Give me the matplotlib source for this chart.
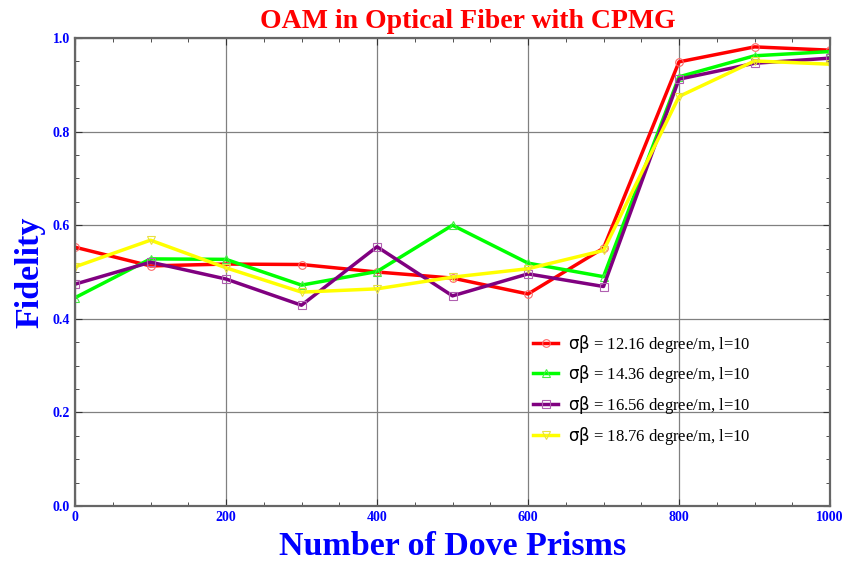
import matplotlib
matplotlib.use('Agg')
import matplotlib.pyplot as plt
from matplotlib.ticker import MultipleLocator, FormatStrFormatter

plt.rcParams['font.family'] = ['Liberation Serif', 'DejaVu Sans']
plt.rcParams['mathtext.fontset'] = 'dejavusans'

x = [0, 100, 200, 300, 400, 500, 600, 700, 800, 900, 1000]
f1216 = [0.553, 0.513, 0.517, 0.516, 0.500, 0.487, 0.453, 0.551, 0.949, 0.981, 0.974]
f1436 = [0.445, 0.528, 0.527, 0.472, 0.501, 0.600, 0.519, 0.490, 0.917, 0.962, 0.971]
f1656 = [0.474, 0.521, 0.485, 0.429, 0.554, 0.449, 0.496, 0.469, 0.912, 0.946, 0.957]
f1876 = [0.511, 0.568, 0.509, 0.457, 0.464, 0.489, 0.507, 0.546, 0.875, 0.951, 0.944]

# data, line colour, marker, marker colour, sigma beta
series = [
    (f1216, '#ff0000', 'o', '#ff6666', '12.16'),
    (f1436, '#00ff00', '^', '#44ee44', '14.36'),
    (f1656, '#800080', 's', '#b060b0', '16.56'),
    (f1876, '#ffff00', 'v', '#e8e040', '18.76'),
]

fig = plt.figure(figsize=(8.46, 5.63), dpi=100)
ax = fig.add_axes([75/846, 57/563, 755/846, 468/563])

for y, c, m, mc, s in series:
    ax.plot(x, y, color=c, linewidth=2.5, marker=m, markersize=5.5,
            markerfacecolor='none', markeredgecolor=mc, markeredgewidth=0.8,
            label=r'$\mathsf{\sigma\beta}$ = ' + s + ' degree/m, l=10')

ax.set_xlim(0, 1000)
ax.set_ylim(0, 1.0)
ax.xaxis.set_major_locator(MultipleLocator(200))
ax.xaxis.set_minor_locator(MultipleLocator(50))
ax.yaxis.set_major_locator(MultipleLocator(0.2))
ax.yaxis.set_minor_locator(MultipleLocator(0.05))
ax.yaxis.set_major_formatter(FormatStrFormatter('%.1f'))
ax.tick_params(which='both', direction='in', top=True, right=True,
               labelcolor='blue', labelsize=10, color='#333333')
ax.tick_params(which='major', length=5)
ax.tick_params(which='minor', length=3)
for lab in ax.get_xticklabels() + ax.get_yticklabels():
    lab.set_fontweight('bold')
for sp in ax.spines.values():
    sp.set_color('#666666')
    sp.set_linewidth(1.6)
ax.grid(True, which='major', color='gray', linewidth=0.9)

ax.set_title('OAM in Optical Fiber with CPMG', color='red', fontweight='bold',
             fontsize=20, pad=7, x=0.52)
ax.set_xlabel('Number of Dove Prisms', color='blue', fontweight='bold',
              fontsize=24.5, labelpad=5)
ax.set_ylabel('Fidelity', color='blue', fontweight='bold', fontsize=24.5,
              labelpad=5)

ax.legend(loc='lower left', bbox_to_anchor=(0.607, 0.127), frameon=False,
          fontsize=12, handlelength=1.5, handletextpad=0.6, labelspacing=0.52,
          borderpad=0, borderaxespad=0)

plt.savefig('out.png')
